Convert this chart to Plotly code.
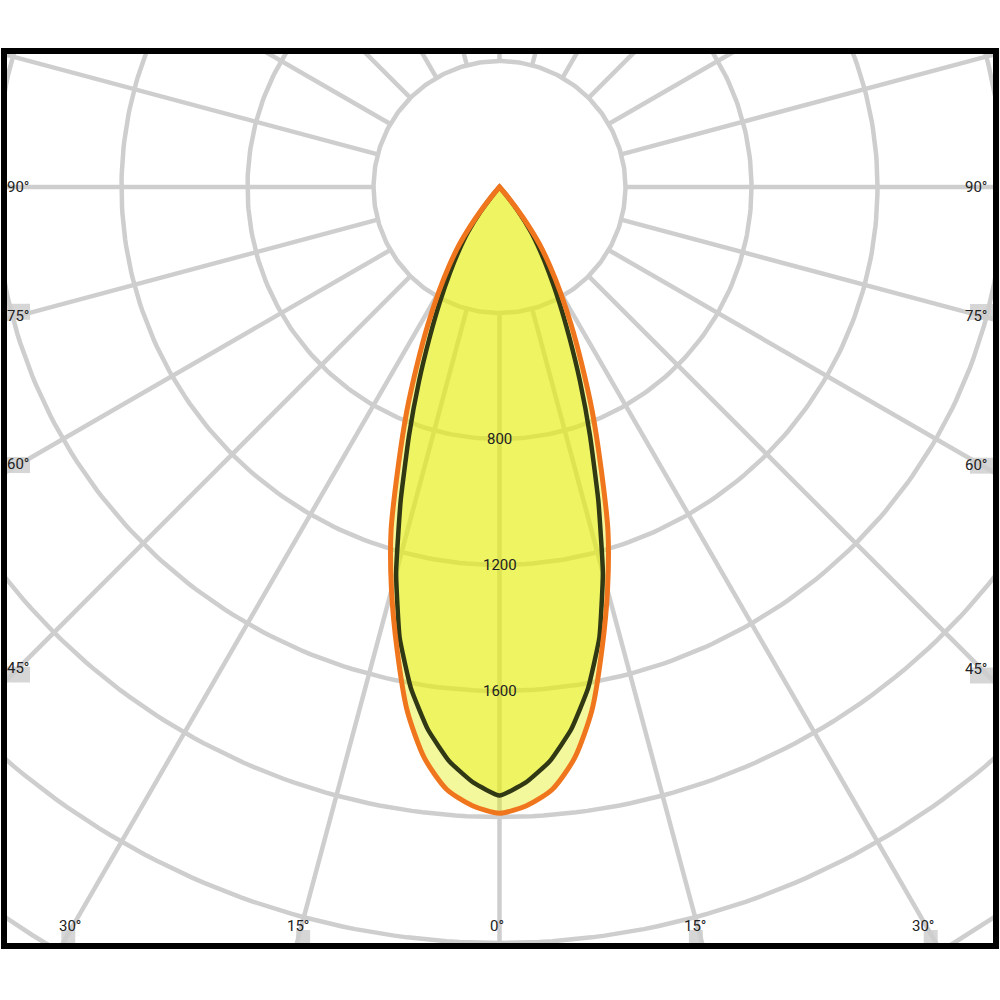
import numpy as np
import plotly.graph_objects as go

# luminous intensity (cd) per gamma angle, half plane (symmetric)
gamma = [0, 2.5, 5, 7.5, 10, 12.5, 15, 17.5, 20, 22.5, 25, 27.5, 30, 32.5, 35, 37.5, 40, 45, 60, 90]
c0_c180 = [1988, 1966, 1920, 1828, 1688, 1503, 1325, 1145, 938, 768, 615, 492, 388, 300, 220, 125, 40, 0, 0, 0]
c90_c270 = [1932, 1893, 1830, 1738, 1617, 1465, 1268, 1043, 840, 668, 522, 408, 315, 240, 175, 100, 30, 0, 0, 0]

ring_values = [400, 800, 1200, 1600, 2000, 2400, 2800]
ring_labels = [800, 1200, 1600]
spoke_angles = list(range(0, 360, 15))
side_labels = [90, 75, 60, 45]
bottom_labels = [30, 15, 0]

CD_PER_PX = 400 / 126
W, H = 1000, 1000
M_L, M_R, M_T, M_B = 4, 4, 51, 54
CX, CY = 499.5, 187

x_lo = -(CX - M_L) * CD_PER_PX
x_hi = (W - M_R - CX) * CD_PER_PX
y_hi = (CY - M_T) * CD_PER_PX
y_lo = -(H - M_B - CY) * CD_PER_PX

GRID = 'rgb(206,206,206)'
LABEL_BOX = 'rgb(214,214,214)'
FILL = 'rgba(228,238,20,0.42)'
ORANGE = 'rgb(240,118,30)'
DARK = 'rgb(48,56,20)'


def to_xy(angles, values):
    a = np.radians(angles)
    v = np.array(values, dtype=float)
    return v * np.sin(a), -v * np.cos(a)


def full_curve(values):
    g = np.array(gamma)
    v = np.array(values)
    angles = np.concatenate([-g[::-1], g[1:]])
    vals = np.concatenate([v[::-1], v[1:]])
    return to_xy(angles, vals)


def px(n):
    return n * CD_PER_PX


fig = go.Figure()

# rings
t = np.linspace(0, 360, 361)
for r in ring_values:
    x, y = to_xy(t, np.full_like(t, r))
    fig.add_trace(go.Scatter(x=x, y=y, mode='lines', line=dict(color=GRID, width=4.5),
                             hoverinfo='skip', showlegend=False))

# spokes, starting at the inner ring
for a in spoke_angles:
    x, y = to_xy([a, a], [ring_values[0], 3200])
    fig.add_trace(go.Scatter(x=x, y=y, mode='lines', line=dict(color=GRID, width=4.5),
                             hoverinfo='skip', showlegend=False))

x0, y0 = full_curve(c0_c180)
x1, y1 = full_curve(c90_c270)
curves = [(x0, y0, ORANGE, 5, 0.7, 'C0-C180'), (x1, y1, DARK, 4.5, 0.4, 'C90-C270')]

# fills first, then outlines (dark below orange)
for x, y, _, _, sm, name in curves:
    fig.add_trace(go.Scatter(x=x, y=y, mode='lines', fill='toself', fillcolor=FILL,
                             line=dict(width=0, shape='spline', smoothing=sm),
                             hoverinfo='skip', showlegend=False))
for x, y, col, w, sm, name in curves[::-1]:
    fig.add_trace(go.Scatter(x=x, y=y, mode='lines', name=name,
                             line=dict(color=col, width=w, shape='spline', smoothing=sm),
                             showlegend=False))

annotations = []
shapes = []
for r in ring_labels:
    annotations.append(dict(x=0, y=-r, text=str(r), showarrow=False,
                            font=dict(size=15, color='#222')))

# angle labels on the left / right edges
for a in side_labels:
    for side in (-1, 1):
        xe = x_lo if side < 0 else x_hi
        x_cross = xe - side * px(15)
        ya = -abs(x_cross) / np.tan(np.radians(a)) if a != 90 else 0
        xa = xe - side * px(14 if side < 0 else 20)
        if a != 90:
            y_edge = -abs(xe) / np.tan(np.radians(a))
            shapes.append(dict(type='rect', xref='x', yref='y', layer='below',
                               x0=xe, x1=xe - side * px(26), y0=y_edge, y1=y_edge + px(16),
                               fillcolor=LABEL_BOX, line=dict(width=0)))
        annotations.append(dict(x=xa, y=ya, text=f'{a}°', showarrow=False,
                                font=dict(size=15, color='#222')))

# angle labels along the bottom edge
yb = y_lo + px(20)
for a in bottom_labels:
    sides = (0,) if a == 0 else (-1, 1)
    for side in sides:
        xa = side * abs(yb) * np.tan(np.radians(a))
        if a != 0:
            x_edge = side * abs(y_lo) * np.tan(np.radians(a))
            shapes.append(dict(type='rect', xref='x', yref='y', layer='below',
                               x0=x_edge, x1=x_edge - side * px(14), y0=y_lo, y1=y_lo + px(16),
                               fillcolor=LABEL_BOX, line=dict(width=0)))
        annotations.append(dict(x=xa, y=yb, text=f'{a}°', showarrow=False, xshift=-3,
                                font=dict(size=15, color='#222')))

shapes.append(dict(type='rect', xref='paper', yref='paper', x0=0, x1=1, y0=0, y1=1,
                   line=dict(color='black', width=6), layer='above'))

fig.update_layout(
    width=W, height=H,
    margin=dict(l=M_L, r=M_R, t=M_T, b=M_B),
    paper_bgcolor='white', plot_bgcolor='white',
    font=dict(family='Roboto'),
    annotations=annotations,
    shapes=shapes,
)
fig.update_xaxes(range=[x_lo, x_hi], visible=False, fixedrange=True)
fig.update_yaxes(range=[y_lo, y_hi], visible=False, fixedrange=True)

# page body has a default 8px margin; drop it so the figure sits at the window origin
fig.write_html('out.html', config={'displayModeBar': False},
               post_script="document.body.style.margin='0';")
